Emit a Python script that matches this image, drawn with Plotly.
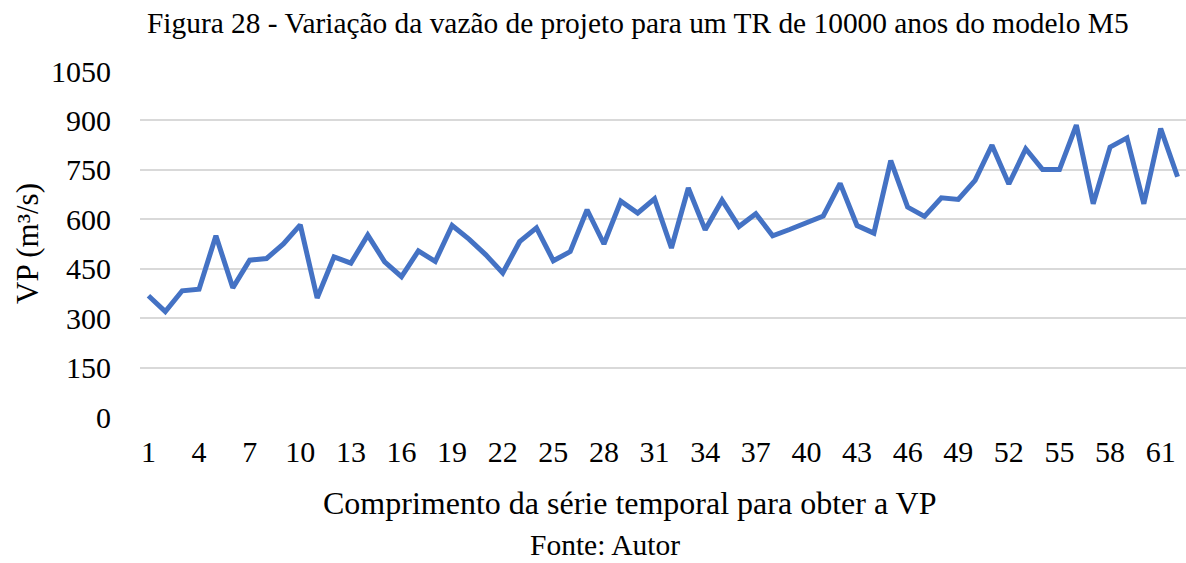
import plotly.graph_objects as go

categories = list(range(1, 63))
vp_values = [368, 320, 383, 388, 550, 392, 476, 481, 525, 583,
             361, 486, 467, 552, 471, 426, 504, 472, 581, 540,
             492, 437, 532, 574, 474, 502, 629, 525, 655, 619,
             662, 513, 695, 568, 658, 578, 617, 550, 569, 591,
             610, 709, 581, 558, 778, 637, 609, 665, 660, 718,
             825, 707, 814, 751, 751, 886, 647, 819, 847, 647,
             875, 729]
x_tickvals = list(range(1, 63, 3))
y_tickvals = [0, 150, 300, 450, 600, 750, 900, 1050]

title_text = "Figura 28 - Variação da vazão de projeto para um TR de 10000 anos do modelo M5"
x_title = "Comprimento da série temporal para obter a VP"
y_title = "VP (m³/s)"
source_text = "Fonte: Autor"

FONT = "Liberation Serif, Times New Roman, serif"

fig = go.Figure()
fig.add_trace(go.Scatter(
    x=categories, y=vp_values, mode="lines",
    line=dict(color="#4472C4", width=5, shape="linear"),
    showlegend=False, hoverinfo="x+y",
))

W, H = 1186, 563
L, R, T, B = 140, 0, 71, 146

fig.update_layout(
    width=W, height=H,
    margin=dict(l=L, r=R, t=T, b=B, pad=0),
    paper_bgcolor="white", plot_bgcolor="white",
    font=dict(family=FONT, color="black", size=30),
    xaxis=dict(
        range=[0.5, 62.5], tickvals=x_tickvals,
        ticktext=[str(v) for v in x_tickvals],
        showgrid=False, zeroline=False, showline=False,
        ticks="", ticklabelstandoff=14,
        tickfont=dict(family=FONT, size=30, color="black"),
    ),
    yaxis=dict(
        range=[0, 1050], tickvals=y_tickvals,
        showgrid=True, gridcolor="#D9D9D9", gridwidth=1.5,
        zeroline=False, showline=False, ticks="",
        ticklabelstandoff=28,
        tickfont=dict(family=FONT, size=30, color="black"),
    ),
    annotations=[
        dict(text=title_text, x=638, y=H - 23, showarrow=False,
             font=dict(family=FONT, size=29.4, color="black"),
             xanchor="center", yanchor="middle"),
        dict(text=x_title, x=629, y=H - 503, showarrow=False,
             font=dict(family=FONT, size=32, color="black"),
             xanchor="center", yanchor="middle"),
        dict(text=source_text, x=605, y=H - 545, showarrow=False,
             font=dict(family=FONT, size=29.5, color="black"),
             xanchor="center", yanchor="middle"),
        dict(text=y_title, x=27, y=H - 244, showarrow=False, textangle=-90,
             font=dict(family=FONT, size=31, color="black"),
             xanchor="center", yanchor="middle"),
    ],
)

# convert pixel positions of annotations into paper coordinates
pw = W - L - R
ph = H - T - B
for a in fig.layout.annotations:
    a.x = (a.x - L) / pw
    a.y = (a.y - B) / ph
    a.xref = "paper"
    a.yref = "paper"

fig.write_html(
    "out.html",
    config={"displayModeBar": False},
    post_script="document.body.style.margin='0';document.body.style.padding='0';",
)
